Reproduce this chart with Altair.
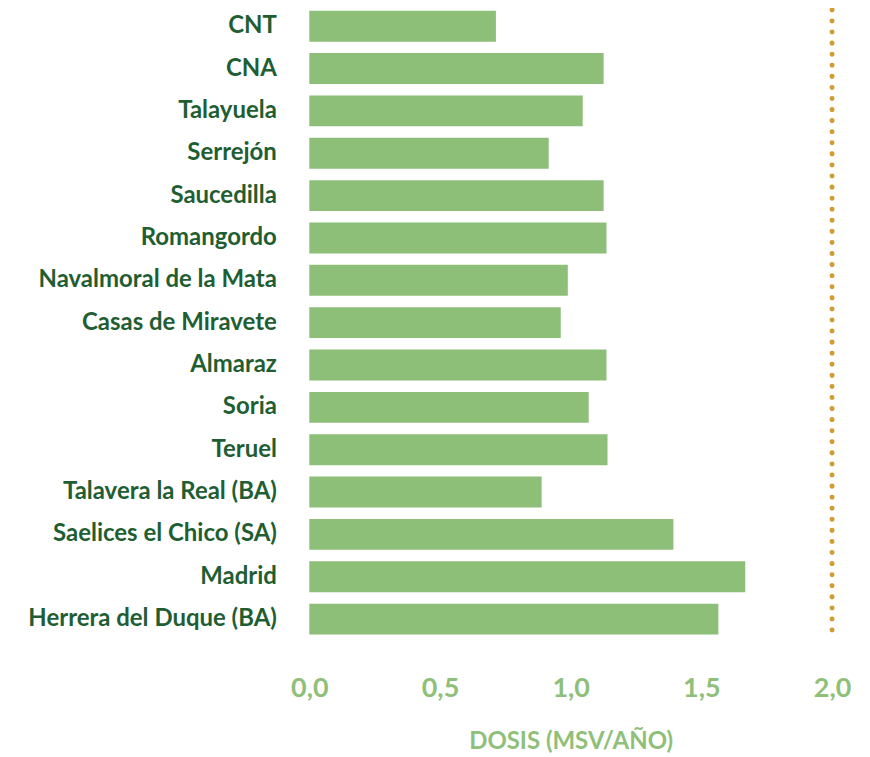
import altair as alt
import pandas as pd

estaciones = [
    "CNT", "CNA", "Talayuela", "Serrejón", "Saucedilla", "Romangordo",
    "Navalmoral de la Mata", "Casas de Miravete", "Almaraz", "Soria",
    "Teruel", "Talavera la Real (BA)", "Saelices el Chico (SA)", "Madrid",
    "Herrera del Duque (BA)",
]
dosis = [0.714, 1.126, 1.046, 0.916, 1.126, 1.137, 0.989, 0.962, 1.137,
         1.069, 1.141, 0.889, 1.393, 1.668, 1.565]
limite = [2.0]
ticks_x = [0.0, 0.5, 1.0, 1.5, 2.0]

df = pd.DataFrame({"estacion": estaciones, "dosis": dosis})
df_lim = pd.DataFrame({"limite": limite})

FONT = "Lato"
BAR = "#8ebf78"
LABEL_DARK = "#1f5e33"
TICK_GREEN = "#8fc07a"

x_scale = alt.Scale(domain=[0, 2.0], nice=False, zero=True)

bars = alt.Chart(df).mark_bar(color=BAR).encode(
    y=alt.Y(
        "estacion:N",
        sort=estaciones,
        scale=alt.Scale(paddingInner=0.27, paddingOuter=0.02),
        axis=alt.Axis(
            title=None, ticks=False, domain=False, grid=False,
            labelFont=FONT, labelFontWeight="bold", labelFontSize=24,
            labelColor=LABEL_DARK, labelPadding=33, labelLimit=400,
        ),
    ),
    x=alt.X(
        "dosis:Q",
        scale=x_scale,
        axis=alt.Axis(
            title="DOSIS (MSV/AÑO)", values=ticks_x, ticks=False, tickSize=0,
            domain=False, grid=False, labelFlush=False,
            labelExpr="replace(format(datum.value, '.1f'), '.', ',')",
            labelFont=FONT, labelFontWeight="bold", labelFontSize=27,
            labelColor=TICK_GREEN, labelPadding=40,
            titleFont=FONT, titleFontWeight="bold", titleFontSize=24,
            titleColor=TICK_GREEN, titlePadding=28,
        ),
    ),
)

rule = alt.Chart(df_lim).mark_rule(
    color="#d39b35", strokeWidth=5, strokeDash=[0.1, 11], strokeCap="round"
).encode(x=alt.X("limite:Q", scale=x_scale))

chart = alt.layer(bars, rule).properties(
    width=524, height=627,
    autosize=alt.AutoSizeParams(type="none"),
    padding={"left": 302, "top": 1, "right": 30, "bottom": 120},
).configure(background="white").configure_view(stroke=None)

chart.save("out.html", embed_options={"renderer": "svg", "actions": False})
